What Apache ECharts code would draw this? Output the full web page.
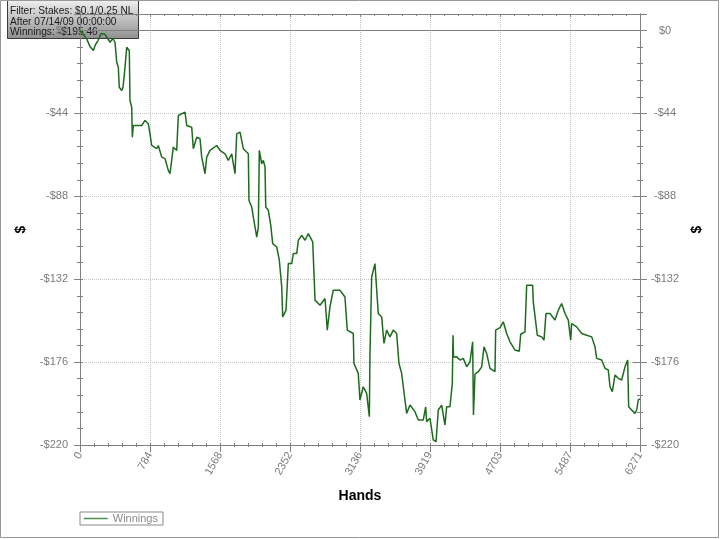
<!DOCTYPE html>
<html>
<head>
<meta charset="utf-8">
<script src="https://cdn.jsdelivr.net/npm/echarts@6/dist/echarts.min.js"></script>
<style>html,body{margin:0;padding:0;background:#fff}#c{width:720px;height:539px}</style>
</head>
<body>
<div id="c"></div>
<script>
const hands = [0,34,75,112,149,174,202,235,280,336,370,392,411,429,440,467,482,504,523,552,560,579,586,597,691,728,765,784,803,859,877,915,952,989,1008,1045,1083,1101,1176,1195,1251,1269,1307,1344,1363,1400,1419,1456,1531,1568,1624,1661,1699,1717,1736,1755,1792,1829,1885,1892,1923,1941,1979,1997,2008,2035,2053,2072,2080,2109,2136,2158,2203,2232,2259,2270,2307,2333,2371,2389,2427,2445,2483,2520,2557,2606,2632,2688,2744,2769,2799,2836,2911,2967,2993,3060,3068,3116,3135,3172,3210,3240,3247,3266,3303,3322,3340,3378,3404,3434,3471,3508,3546,3572,3602,3639,3658,3695,3751,3788,3844,3871,3882,3919,3956,3987,4012,4050,4087,4106,4143,4169,4177,4183,4218,4255,4292,4330,4367,4397,4406,4423,4460,4498,4524,4554,4591,4647,4655,4703,4740,4778,4815,4871,4919,4935,4983,5002,5069,5076,5121,5170,5196,5218,5263,5319,5356,5394,5431,5468,5495,5506,5562,5618,5674,5730,5767,5786,5842,5879,5916,5935,5961,5991,6028,6066,6103,6133,6144,6178,6215,6234,6252,6271];
const winnings = [0,-2.1,-4.4,-8.5,-10.6,-7.4,-5.3,-1.6,-2,-6.2,-4.2,-6.2,-16.8,-19.5,-30.1,-31.8,-30.1,-19.5,-8.9,-10.6,-37.1,-40.7,-56.6,-50.4,-50.4,-47.7,-49.5,-54.8,-61.0,-62.7,-61.0,-67.2,-68.0,-74.2,-76.0,-61.9,-63.6,-45.1,-43.3,-50.4,-51.3,-62.7,-56.6,-57.4,-67.2,-76.0,-67.2,-63.6,-61.0,-63.6,-65.4,-68.9,-65.4,-70.7,-76.0,-54.8,-53.9,-62.7,-65.4,-90.1,-93.7,-99.0,-109.6,-104.3,-63.6,-70.7,-68.9,-72.5,-93.7,-95.4,-103.4,-113.1,-114.9,-121.9,-136.1,-152.0,-148.4,-123.7,-123.7,-118.4,-118.4,-111.3,-108.7,-111.3,-107.8,-112.2,-143.1,-145.8,-142.2,-159.0,-146.7,-137.8,-137.8,-141.4,-159.0,-160.8,-176.7,-182.0,-196.1,-189.1,-192.6,-205.0,-172.3,-130.8,-123.7,-122.8,-150.2,-152.0,-166.1,-159.0,-162.6,-159.0,-160.8,-176.7,-182.0,-196.1,-203.2,-198.8,-202.3,-206.7,-206.7,-199.7,-207.6,-205.8,-217.3,-218.2,-201.4,-198.8,-209.4,-199.7,-199.7,-187.4,-161.7,-173.3,-173.2,-174.9,-174.0,-178.5,-175.8,-165.2,-204.1,-182.4,-181.1,-178.5,-167.9,-171.4,-179.3,-181.1,-159.0,-157.7,-154.6,-160.8,-165.2,-169.6,-170.2,-161.2,-159.9,-135.2,-135.2,-144.0,-161.7,-162.6,-164.3,-150.2,-150.2,-153.7,-148.4,-144.9,-150.2,-153.7,-164.3,-155.5,-157.3,-160.8,-161.7,-162.6,-167.9,-174.0,-174.9,-179.3,-180.2,-189.1,-191.7,-182.9,-184.6,-185.5,-178.5,-174.9,-199.7,-201.4,-203.2,-201.4,-196.1,-195.5];
const xTickLabels = ['0','784','1568','2352','3136','3919','4703','5487','6271'];
const yTickLabels = ['-$220','-$176','-$132','-$88','-$44','$0'];
const infoLines = ['Filter: Stakes: $0.1/0.25 NL','After 07/14/09 00:00:00','Winnings: -$195.46'];

const X_MAX = 6271, X_INT = 6271/8;
const Y_MIN = -220, Y_MAX = 8.8, Y_INT = 44;
const AX = '#808080';
const FONT = 'Liberation Sans';

const xLab = v => { const i = Math.round(v / X_INT); return (Math.abs(v - i*X_INT) < 1 && xTickLabels[i] !== undefined) ? xTickLabels[i] : ''; };
const yLab = v => { const i = Math.round((v - Y_MIN) / Y_INT); return (Math.abs(v - (Y_MIN + i*Y_INT)) < 0.5 && yTickLabels[i] !== undefined) ? yTickLabels[i] : ''; };

function xBase(extra){ return Object.assign({type:'value', min:0, max:X_MAX, interval:X_INT, gridIndex:0,
  axisLine:{show:true, onZero:false, lineStyle:{color:AX, width:1}}, splitLine:{show:false}, axisLabel:{show:false}}, extra); }
function yBase(extra){ return Object.assign({type:'value', min:Y_MIN, max:Y_MAX, interval:Y_INT, gridIndex:0,
  axisLine:{show:true, onZero:false, lineStyle:{color:AX, width:1}}, splitLine:{show:false}, axisLabel:{show:false}}, extra); }

const chart = echarts.init(document.getElementById('c'), null, {renderer:'canvas'});
chart.setOption({
  animation:false,
  backgroundColor:'#ffffff',
  grid:{left:80, right:80, top:14, bottom:94, containLabel:false},
  xAxis:[
    xBase({position:'bottom',
      axisTick:{show:true, length:7, lineStyle:{color:AX}},
      minorTick:{show:true, splitNumber:5, length:2, lineStyle:{color:AX}},
      splitLine:{show:true, lineStyle:{color:'#c4c4c4', type:'dotted', width:1}},
      axisLabel:{show:true, rotate:60, margin:8, color:'#7a7a7a', fontSize:11, fontFamily:FONT, formatter:xLab},
      name:'Hands', nameLocation:'middle', nameGap:44,
      nameTextStyle:{color:'#000', fontSize:14, fontWeight:'bold', fontFamily:FONT}}),
    xBase({position:'bottom',
      axisTick:{show:true, inside:true, length:2, lineStyle:{color:AX}},
      minorTick:{show:true, splitNumber:5, length:2, lineStyle:{color:AX}}}),
    xBase({position:'top',
      axisTick:{show:true, inside:true, length:3, lineStyle:{color:AX}},
      minorTick:{show:true, splitNumber:5, length:2, lineStyle:{color:AX}}})
  ],
  yAxis:[
    yBase({position:'left',
      axisTick:{show:true, length:6, lineStyle:{color:AX}},
      minorTick:{show:true, splitNumber:5, length:3, lineStyle:{color:AX}},
      splitLine:{show:true, lineStyle:{color:'#c4c4c4', type:'dotted', width:1}},
      axisLabel:{show:true, margin:12, color:'#7a7a7a', fontSize:11, fontFamily:FONT, formatter:yLab},
      name:'$', nameLocation:'middle', nameGap:52, nameRotate:90,
      nameTextStyle:{color:'#000', fontSize:14, fontWeight:'bold', fontFamily:FONT}}),
    yBase({position:'left',
      axisTick:{show:true, inside:true, length:3, lineStyle:{color:AX}},
      minorTick:{show:true, splitNumber:5, length:3, lineStyle:{color:AX}}}),
    yBase({position:'right',
      axisTick:{show:true, length:7, lineStyle:{color:AX}},
      minorTick:{show:true, splitNumber:5, length:3, lineStyle:{color:AX}},
      axisLabel:{show:true, margin:25, align:'center', color:'#7a7a7a', fontSize:11, fontFamily:FONT, formatter:yLab},
      name:'$', nameLocation:'middle', nameGap:48, nameRotate:90,
      nameTextStyle:{color:'#000', fontSize:14, fontWeight:'bold', fontFamily:FONT}}),
    yBase({position:'right',
      axisTick:{show:true, inside:true, length:7, lineStyle:{color:AX}},
      minorTick:{show:true, splitNumber:5, length:3, lineStyle:{color:AX}}})
  ],
  legend:{
    left:80, top:512, orient:'horizontal',
    borderColor:'#8a8a8a', borderWidth:1, padding:[1,5,1,3],
    itemWidth:24, itemHeight:10, itemGap:4,
    textStyle:{color:'#8a8a8a', fontSize:11, fontFamily:FONT},
    data:[{name:'Winnings', itemStyle:{opacity:0}, lineStyle:{color:'#4f8f4f', width:1.5}}]
  },
  series:[{
    name:'Winnings', type:'line', xAxisIndex:0, yAxisIndex:0,
    data: hands.map((h,i)=>[h, winnings[i]]),
    symbol:'none', showSymbol:false, smooth:false,
    color:'#1d6b1d',
    lineStyle:{color:'#1d6b1d', width:1.5},
    z:5,
    markLine:{silent:true, symbol:['none','none'], label:{show:false},
      lineStyle:{color:AX, type:'solid', width:1},
      data:[{yAxis:0}]}
  }],
  graphic:[
    {type:'rect', z:100, silent:true,
      shape:{x:0.5, y:0.5, width:718, height:537},
      style:{fill:'none', stroke:'#999999', lineWidth:1}},
    {type:'group', x:7, y:0, z:200, children:[
      {type:'rect', shape:{x:0.5, y:-1, width:131, height:39.5},
        style:{stroke:'#3a3a3a', lineWidth:1,
          fill:new echarts.graphic.LinearGradient(0,0,0,1,[{offset:0,color:'#f4f4f4'},{offset:1,color:'#8e8e8e'}])}},
      {type:'text', style:{x:3, y:11, text:infoLines[0], fill:'#1a1a1a', font:'10.2px "Liberation Sans"', verticalAlign:'middle'}},
      {type:'text', style:{x:3, y:21.7, text:infoLines[1], fill:'#1a1a1a', font:'10.2px "Liberation Sans"', verticalAlign:'middle'}},
      {type:'text', style:{x:3, y:32.4, text:infoLines[2], fill:'#1a1a1a', font:'10.2px "Liberation Sans"', verticalAlign:'middle'}}
    ]}
  ]
});
</script>
</body>
</html>
